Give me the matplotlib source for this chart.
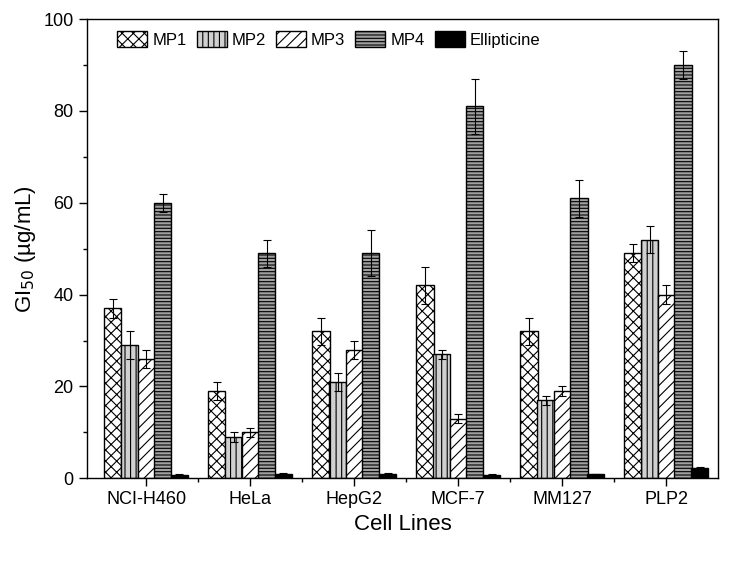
import numpy as np
import matplotlib
matplotlib.use("Agg")
import matplotlib.pyplot as plt

plt.rcParams["font.family"] = "Liberation Sans"
plt.rcParams["hatch.linewidth"] = 0.8

cells = ["NCI-H460", "HeLa", "HepG2", "MCF-7", "MM127", "PLP2"]
series = ["MP1", "MP2", "MP3", "MP4", "Ellipticine"]
mp1 = [37, 19, 32, 42, 32, 49]
mp1_err = [2, 2, 3, 4, 3, 2]
mp2 = [29, 9, 21, 27, 17, 52]
mp2_err = [3, 1, 2, 1, 1, 3]
mp3 = [26, 10, 28, 13, 19, 40]
mp3_err = [2, 1, 2, 1, 1, 2]
mp4 = [60, 49, 49, 81, 61, 90]
mp4_err = [2, 3, 5, 6, 4, 3]
ellip = [0.8, 1.0, 1.0, 0.8, 0.9, 2.2]
ellip_err = [0.1, 0.1, 0.1, 0.1, 0.1, 0.2]

vals = [mp1, mp2, mp3, mp4, ellip]
errs = [mp1_err, mp2_err, mp3_err, mp4_err, ellip_err]
hatches = ["xxx", "|||", "///", "-----", None]
faces = ["white", "#d0d0d0", "white", "#a0a0a0", "black"]

fig, ax = plt.subplots(figsize=(7.30, 5.64), dpi=100)
fig.subplots_adjust(left=0.119, right=0.984, top=0.966, bottom=0.152)

x = np.arange(len(cells))
w = 0.165
offsets = [-0.32, -0.16, 0.0, 0.16, 0.32]
for i in range(5):
    ax.bar(x + offsets[i], vals[i], w, yerr=errs[i], color=faces[i],
           edgecolor="black", hatch=hatches[i], linewidth=1.0,
           error_kw=dict(elinewidth=0.8, capsize=3, capthick=0.8),
           label=series[i])

ax.set_xlim(-0.57, 5.5)
ax.set_ylim(0, 100)
ax.set_xticks(x)
ax.set_xticks(x[:-1] + 0.5, minor=True)
ax.set_xticklabels(cells, fontsize=13)
ax.set_yticks([0, 20, 40, 60, 80, 100])
ax.set_yticks([10, 30, 50, 70, 90], minor=True)
ax.tick_params(axis="both", labelsize=13, length=6, width=1)
ax.tick_params(which="minor", length=3, width=1)
ax.set_xlabel("Cell Lines", fontsize=16)
ax.set_ylabel("GI$_{50}$ (\u00b5g/mL)", fontsize=16)
for s in ax.spines.values():
    s.set_linewidth(1.0)

ax.legend(ncol=5, loc="upper left", bbox_to_anchor=(0.03, 1.0), frameon=False,
          fontsize=12, handlelength=1.8, handleheight=1.1, columnspacing=0.6,
          handletextpad=0.3, borderaxespad=0.3)

fig.savefig("out.png", dpi=100)
